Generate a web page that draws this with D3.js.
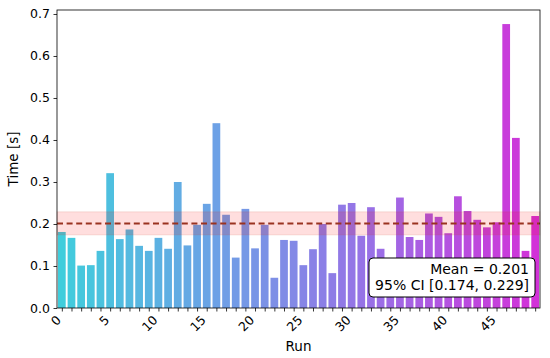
<!DOCTYPE html>
<html>
<head>
<meta charset="utf-8">
<script src="https://cdn.jsdelivr.net/npm/d3@7"></script>
<style>
  html, body { margin: 0; padding: 0; background: #fff; }
  svg { display: block; font-family: "DejaVu Sans", sans-serif; }
</style>
</head>
<body>
<svg id="chart" width="550" height="358"></svg>
<script>
// ---- data ----
const runs = d3.range(0, 50);
const times = [
  0.181, 0.167, 0.101, 0.102, 0.136, 0.321, 0.164, 0.187, 0.148, 0.136,
  0.167, 0.141, 0.300, 0.149, 0.198, 0.248, 0.440, 0.222, 0.120, 0.236,
  0.142, 0.198, 0.072, 0.162, 0.160, 0.102, 0.140, 0.200, 0.083, 0.246,
  0.250, 0.172, 0.240, 0.141, 0.115, 0.263, 0.169, 0.162, 0.225, 0.217,
  0.178, 0.266, 0.231, 0.210, 0.192, 0.204, 0.676, 0.405, 0.136, 0.219
];
const yTicks = [0.0, 0.1, 0.2, 0.3, 0.4, 0.5, 0.6, 0.7];
const xTickLabels = [0, 5, 10, 15, 20, 25, 30, 35, 40, 45];
const meanValue = [0.201];
const ciBounds = [0.174, 0.229];
const statLines = ["Mean = 0.201", "95% CI [0.174, 0.229]"];
const colorStops = ["#40cddc", "#6ea0e6", "#9b6ee6", "#d232d8"];

// ---- layout ----
const W = 550, H = 358;
const m = { left: 57, right: 10, top: 10, bottom: 50 };
const x0 = m.left, x1 = W - m.right, y0 = H - m.bottom, y1 = m.top;

const svg = d3.select("#chart");
const x = d3.scaleLinear().domain([-0.5, 49.5]).range([x0, x1]);
const y = d3.scaleLinear().domain([0, 0.7095]).range([y0, y1]);
const color = d3.scaleLinear()
  .domain(d3.range(colorStops.length).map(i => i / (colorStops.length - 1) * 49))
  .range(colorStops)
  .interpolate(d3.interpolateRgb);

const bw = 0.8;

// bars
svg.append("g").selectAll("rect").data(runs).join("rect")
  .attr("x", d => x(d - bw / 2))
  .attr("width", x(bw) - x(0))
  .attr("y", d => y(times[d]))
  .attr("height", d => y(0) - y(times[d]))
  .attr("fill", d => color(d));

// CI band
svg.append("rect")
  .attr("x", x0).attr("width", x1 - x0)
  .attr("y", y(ciBounds[1])).attr("height", y(ciBounds[0]) - y(ciBounds[1]))
  .attr("fill", "rgb(255,0,0)").attr("fill-opacity", 0.13)
  .attr("stroke", "rgb(200,80,60)").attr("stroke-opacity", 0.15).attr("stroke-width", 1);

// mean line
svg.append("line")
  .attr("x1", x0).attr("x2", x1)
  .attr("y1", y(meanValue[0])).attr("y2", y(meanValue[0]))
  .attr("stroke", "#9a3220").attr("stroke-width", 2)
  .attr("stroke-dasharray", "6,3.6");

// axes
const yAxis = d3.axisLeft(y).tickValues(yTicks).tickFormat(d3.format(".1f")).tickSize(3.5).tickPadding(3.5);
const gy = svg.append("g").attr("transform", `translate(${x0},0)`).call(yAxis);
gy.select(".domain").remove();
gy.selectAll("text").attr("font-size", "12.5px").attr("fill", "#000")
  .attr("font-family", "DejaVu Sans");
gy.selectAll("line").attr("stroke", "#000").attr("stroke-width", 0.8);

const xAxis = d3.axisBottom(x).tickValues(runs).tickSize(3.5).tickFormat("");
const gx = svg.append("g").attr("transform", `translate(0,${y0})`).call(xAxis);
gx.select(".domain").remove();
gx.selectAll("line").attr("stroke", "#000").attr("stroke-width", 0.8);

svg.append("g").selectAll("text").data(xTickLabels).join("text")
  .attr("transform", d => `translate(${x(d)},${y0 + 13}) rotate(-45)`)
  .attr("text-anchor", "end")
  .attr("font-size", "12.5px")
  .attr("fill", "#000")
  .text(d => d);

// frame
svg.append("rect")
  .attr("x", x0).attr("y", y1).attr("width", x1 - x0).attr("height", y0 - y1)
  .attr("fill", "none").attr("stroke", "#000").attr("stroke-width", 0.8);

// axis labels
svg.append("text")
  .attr("transform", `translate(18,${(y0 + y1) / 2}) rotate(-90)`)
  .attr("text-anchor", "middle").attr("font-size", "13.5px").attr("fill", "#000")
  .text("Time [s]");
svg.append("text")
  .attr("x", (x0 + x1) / 2).attr("y", 351)
  .attr("text-anchor", "middle").attr("font-size", "13.5px").attr("fill", "#000")
  .text("Run");

// stats box
const box = svg.append("g");
box.append("rect")
  .attr("x", 369).attr("y", 258).attr("width", 166).attr("height", 39)
  .attr("rx", 4).attr("ry", 4)
  .attr("fill", "#fff").attr("stroke", "#000").attr("stroke-width", 1);
box.selectAll("text").data(statLines).join("text")
  .attr("x", 529).attr("y", (d, i) => 274 + i * 16)
  .attr("text-anchor", "end").attr("font-size", "14px").attr("fill", "#000")
  .text(d => d);
</script>
</body>
</html>
